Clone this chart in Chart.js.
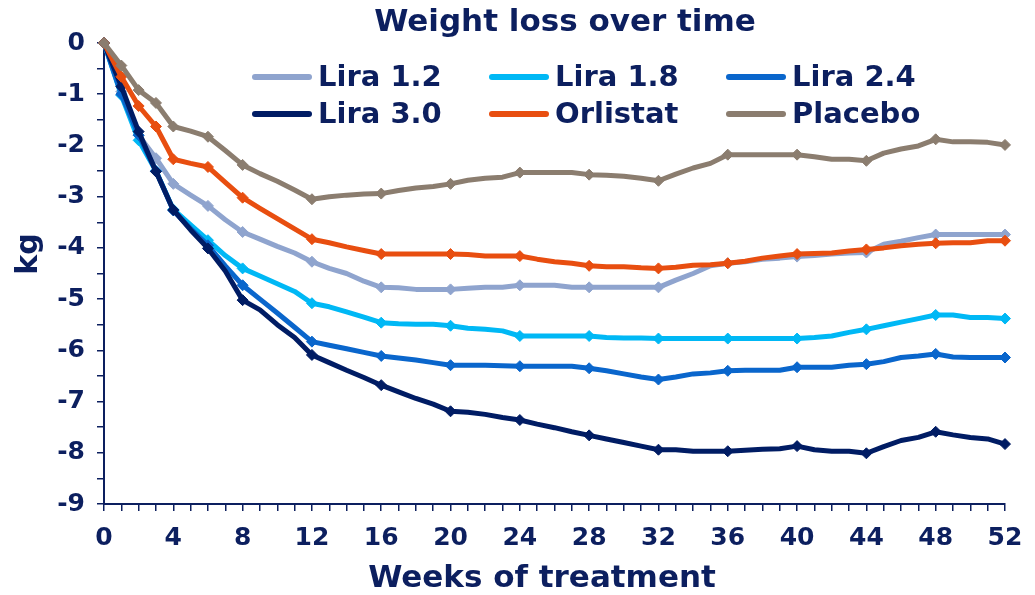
<!DOCTYPE html>
<html>
<head>
<meta charset="utf-8">
<title>Weight loss over time</title>
<script src="https://cdn.jsdelivr.net/npm/chart.js@4.4.1/dist/chart.umd.min.js"></script>
<style>
	html, body { margin: 0; padding: 0; background: #ffffff; }
	#wrap { width: 1035px; height: 595px; }
</style>
</head>
<body>
<div id="wrap"><canvas id="myChart" width="1035" height="595"></canvas></div>
<script>
// weeks 0..52
var _weeks = [0,1,2,3,4,5,6,7,8,9,10,11,12,13,14,15,16,17,18,19,20,21,22,23,24,25,26,
	27,28,29,30,31,32,33,34,35,36,37,38,39,40,41,42,43,44,45,46,47,48,49,50,51,52];
// weeks that carry a diamond marker
var _markerWeeks = [0,1,2,3,4,6,8,12,16,20,24,28,32,36,40,44,48,52];
var _xTickLabels = [0,4,8,12,16,20,24,28,32,36,40,44,48,52];
var _yTickLabels = [0,-1,-2,-3,-4,-5,-6,-7,-8,-9];

var _labels = ['Lira 1.2','Lira 1.8','Lira 2.4','Lira 3.0','Orlistat','Placebo'];
var _colors = ['#8fa4ce','#00b8f5','#0a66cc','#001c64','#e84e10','#8b7d6f'];

var lira12 = [0,-0.95,-1.8,-2.25,-2.75,-2.97,-3.18,-3.45,-3.69,-3.83,-3.97,-4.1,-4.27,-4.4,-4.5,-4.65,-4.77,
	-4.78,-4.81,-4.81,-4.81,-4.79,-4.77,-4.77,-4.73,-4.73,-4.73,-4.77,-4.77,-4.77,-4.77,-4.77,-4.77,
	-4.63,-4.5,-4.35,-4.3,-4.27,-4.22,-4.2,-4.17,-4.15,-4.12,-4.1,-4.09,-3.93,-3.87,-3.8,-3.74,
	-3.74,-3.74,-3.74,-3.74];
var lira18 = [0,-1.02,-1.9,-2.5,-3.25,-3.55,-3.85,-4.15,-4.4,-4.55,-4.7,-4.85,-5.08,-5.15,-5.25,-5.35,-5.46,
	-5.48,-5.49,-5.49,-5.52,-5.57,-5.59,-5.62,-5.72,-5.72,-5.72,-5.72,-5.72,-5.75,-5.76,-5.76,-5.77,
	-5.77,-5.77,-5.77,-5.77,-5.77,-5.77,-5.77,-5.77,-5.75,-5.72,-5.65,-5.59,-5.52,-5.45,-5.38,-5.31,
	-5.31,-5.36,-5.36,-5.38];
var lira24 = [0,-1.0,-1.8,-2.5,-3.27,-3.62,-3.95,-4.35,-4.73,-5.0,-5.27,-5.55,-5.83,-5.9,-5.97,-6.04,-6.11,
	-6.15,-6.19,-6.24,-6.29,-6.29,-6.29,-6.3,-6.31,-6.31,-6.31,-6.31,-6.35,-6.4,-6.46,-6.52,-6.57,
	-6.52,-6.46,-6.44,-6.4,-6.39,-6.39,-6.39,-6.33,-6.33,-6.33,-6.29,-6.27,-6.22,-6.14,-6.11,-6.07,
	-6.13,-6.14,-6.14,-6.14];
var lira30 = [0,-0.85,-1.73,-2.51,-3.26,-3.65,-4.01,-4.45,-5.02,-5.21,-5.5,-5.75,-6.09,-6.24,-6.39,-6.53,-6.68,
	-6.81,-6.94,-7.05,-7.19,-7.21,-7.25,-7.31,-7.36,-7.44,-7.51,-7.59,-7.66,-7.73,-7.8,-7.87,-7.94,
	-7.94,-7.97,-7.97,-7.97,-7.95,-7.93,-7.92,-7.87,-7.94,-7.97,-7.97,-8.01,-7.88,-7.76,-7.7,-7.59,
	-7.65,-7.7,-7.73,-7.83];
var orlistat = [0,-0.66,-1.23,-1.63,-2.27,-2.35,-2.42,-2.72,-3.02,-3.23,-3.43,-3.63,-3.83,-3.9,-3.98,-4.05,-4.12,
	-4.12,-4.12,-4.12,-4.12,-4.13,-4.16,-4.16,-4.16,-4.22,-4.27,-4.3,-4.35,-4.37,-4.37,-4.39,-4.4,
	-4.38,-4.34,-4.33,-4.3,-4.26,-4.2,-4.16,-4.12,-4.11,-4.1,-4.06,-4.03,-4.0,-3.96,-3.93,-3.91,
	-3.9,-3.9,-3.86,-3.86];
var placebo = [0,-0.44,-0.92,-1.17,-1.63,-1.72,-1.83,-2.1,-2.38,-2.55,-2.7,-2.87,-3.05,-3.0,-2.97,-2.95,-2.94,
	-2.88,-2.83,-2.8,-2.75,-2.68,-2.64,-2.62,-2.53,-2.53,-2.53,-2.53,-2.57,-2.58,-2.6,-2.64,-2.69,
	-2.56,-2.44,-2.35,-2.18,-2.18,-2.18,-2.18,-2.18,-2.22,-2.27,-2.27,-2.3,-2.15,-2.07,-2.01,-1.88,
	-1.93,-1.93,-1.94,-1.99];

var _series = [lira12, lira18, lira24, lira30, orlistat, placebo];

var NAVY = '#0c1f5f';
var FONT = "'DejaVu Sans', Verdana, sans-serif";
var myChart;
var _datasets = [];

function _setDatasets() {
	var radius = _weeks.map(function(w) {
		return _markerWeeks.indexOf(w) >= 0 ? 5.5 : 0;
	});
	_datasets = _series.map(function(values, i) {
		return {
			label: _labels[i],
			data: values.map(function(v, k) { return { x: _weeks[k], y: v }; }),
			borderColor: _colors[i],
			backgroundColor: _colors[i],
			borderWidth: 5,
			borderJoinStyle: 'round',
			borderCapStyle: 'round',
			pointStyle: 'rectRot',
			pointRadius: radius,
			pointBorderWidth: 1,
			pointHoverRadius: radius,
			tension: 0,
			clip: false,
			order: _series.length - i
		};
	});
}

// title, legend in three columns inside the plot, and the two axis titles
var legendPlugin = {
	id: 'gridLegend',
	afterDraw: function(chart) {
		var ctx = chart.ctx;
		var area = chart.chartArea;
		var colX = [149, 386, 623];
		var rowY = [34, 71];
		ctx.save();
		ctx.textBaseline = 'middle';
		ctx.fillStyle = NAVY;
		ctx.textAlign = 'center';
		ctx.font = 'bold 31px ' + FONT;
		ctx.fillText('Weight loss over time', 565, 23);

		ctx.font = 'bold 29px ' + FONT;
		ctx.textAlign = 'left';
		chart.data.datasets.forEach(function(ds, i) {
			var x = area.left + colX[i % 3];
			var y = area.top + rowY[Math.floor(i / 3)];
			ctx.strokeStyle = ds.borderColor;
			ctx.lineWidth = 6;
			ctx.lineCap = 'round';
			ctx.beginPath();
			ctx.moveTo(x + 2, y);
			ctx.lineTo(x + 56, y);
			ctx.stroke();
			ctx.fillText(ds.label, x + 65, y + 1);
		});
		ctx.textAlign = 'center';
		ctx.font = 'bold 31px ' + FONT;
		ctx.fillText('Weeks of treatment', 542, 579);
		ctx.translate(29, 254);
		ctx.rotate(-Math.PI / 2);
		ctx.font = 'bold 30px ' + FONT;
		ctx.fillText('kg', 0, 0);
		ctx.restore();
	}
};

function createChart(id) {
	_setDatasets();
	var tickFont = { family: FONT, size: 25, weight: 'bold' };
	myChart = new Chart(document.getElementById(id), {
		type: 'line',
		data: { datasets: _datasets },
		options: {
			responsive: false,
			animation: false,
			layout: { padding: { left: 0, right: 30, top: 43, bottom: 0 } },
			plugins: {
				legend: { display: false },
				tooltip: { enabled: false },
				title: { display: false }
			},
			scales: {
				x: {
					type: 'linear',
					min: 0,
					max: 52,
					ticks: {
						stepSize: 1,
						autoSkip: false,
						maxRotation: 0,
						padding: 12,
						color: NAVY,
						font: tickFont,
						callback: function(v) { return _xTickLabels.indexOf(v) >= 0 ? String(v) : ''; }
					},
					grid: { drawOnChartArea: false, tickLength: 7, color: NAVY, lineWidth: 1.5 },
					border: { color: NAVY, width: 2 },
					afterFit: function(scale) { scale.height = 91; }
				},
				y: {
					min: -9,
					max: 0,
					ticks: {
						stepSize: 0.5,
						autoSkip: false,
						padding: 12,
						color: NAVY,
						font: tickFont,
						callback: function(v) { return _yTickLabels.indexOf(v) >= 0 ? String(v) : ''; }
					},
					grid: { drawOnChartArea: false, tickLength: 7, color: NAVY, lineWidth: 1.5 },
					border: { color: NAVY, width: 2 },
					afterFit: function(scale) { scale.width = 104; }
				}
			}
		},
		plugins: [legendPlugin]
	});
}

createChart('myChart');
</script>
</body>
</html>
